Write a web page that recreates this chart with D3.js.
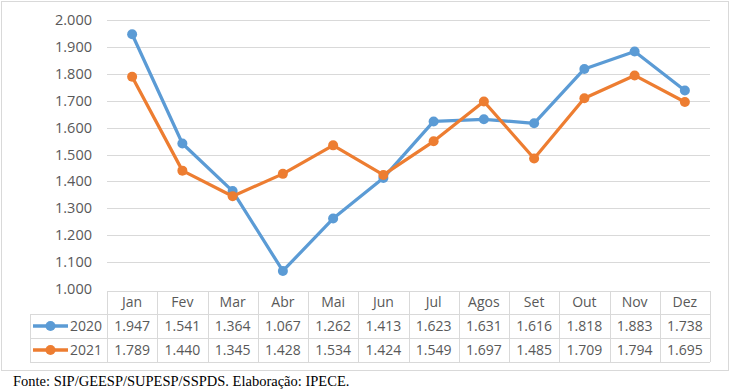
<!DOCTYPE html>
<html lang="pt">
<head>
<meta charset="UTF-8">
<title>Série mensal 2020-2021</title>
<script src="https://d3js.org/d3.v7.min.js"></script>
<style>
  body { margin: 0; background: #fff; }
  svg { display: block; }
  .tick-label, .cell { font-family: "Open Sans", "Liberation Sans", Arial, sans-serif; fill: #595959; }
  .tick-label { font-size: 14.5px; }
  .cell { font-size: 14px; }
  .source { font-family: "Liberation Serif", "Times New Roman", serif; font-size: 14.5px; fill: #000; }
</style>
</head>
<body>
<svg></svg>
<script>
  const months = ["Jan", "Fev", "Mar", "Abr", "Mai", "Jun", "Jul", "Agos", "Set", "Out", "Nov", "Dez"];
  const values2020 = [1947, 1541, 1364, 1067, 1262, 1413, 1623, 1631, 1616, 1818, 1883, 1738];
  const values2021 = [1789, 1440, 1345, 1428, 1534, 1424, 1549, 1697, 1485, 1709, 1794, 1695];
  const yTicks = [1000, 1100, 1200, 1300, 1400, 1500, 1600, 1700, 1800, 1900, 2000];

  const series = [
    { name: "2020", values: values2020, color: "#5B9BD5" },
    { name: "2021", values: values2021, color: "#ED7D31" }
  ];

  const width = 730, height = 390;
  const svg = d3.select("svg").attr("width", width).attr("height", height);

  const fmt = v => d3.format(",")(v).replace(/,/g, ".");
  const fmtTick = v => (v / 1000).toFixed(3);

  const x = d3.scaleBand().domain(months).range([107, 710]);
  const y = d3.scaleLinear().domain([1000, 2000]).range([289, 20]);

  // outer frame
  svg.append("rect")
    .attr("x", 1.5).attr("y", 1.5)
    .attr("width", 727).attr("height", 369)
    .attr("fill", "#fff").attr("stroke", "#d9d9d9");

  // gridlines
  svg.append("g").selectAll("line")
    .data(yTicks.slice(1))
    .join("line")
    .attr("x1", x.range()[0]).attr("x2", x.range()[1])
    .attr("y1", d => Math.round(y(d)) + 0.5).attr("y2", d => Math.round(y(d)) + 0.5)
    .attr("stroke", "#d9d9d9").attr("stroke-width", 1);

  // y labels
  svg.append("g").selectAll("text")
    .data(yTicks)
    .join("text")
    .attr("class", "tick-label")
    .attr("x", 92).attr("y", d => y(d))
    .attr("dy", "0.35em")
    .attr("text-anchor", "end")
    .text(fmtTick);

  // data table
  const rowTop = [291, 314, 338, 362];
  const tableLeft = 30;
  const grid = svg.append("g").attr("stroke", "#d9d9d9").attr("stroke-width", 1).attr("fill", "none");
  grid.append("line").attr("x1", x.range()[0]).attr("x2", x.range()[1]).attr("y1", rowTop[0] + 0.5).attr("y2", rowTop[0] + 0.5);
  rowTop.slice(1).forEach(t => {
    grid.append("line").attr("x1", tableLeft).attr("x2", x.range()[1]).attr("y1", t + 0.5).attr("y2", t + 0.5);
  });
  months.forEach(m => {
    grid.append("line").attr("x1", Math.round(x(m)) + 0.5).attr("x2", Math.round(x(m)) + 0.5)
      .attr("y1", rowTop[0]).attr("y2", rowTop[3]);
  });
  grid.append("line").attr("x1", x.range()[1] + 0.5).attr("x2", x.range()[1] + 0.5).attr("y1", rowTop[0]).attr("y2", rowTop[3]);
  grid.append("line").attr("x1", tableLeft + 0.5).attr("x2", tableLeft + 0.5).attr("y1", rowTop[1]).attr("y2", rowTop[3]);

  // header
  svg.append("g").selectAll("text")
    .data(months)
    .join("text")
    .attr("class", "cell")
    .attr("x", d => x(d) + x.bandwidth() / 2)
    .attr("y", (rowTop[0] + rowTop[1]) / 2)
    .attr("dy", "0.35em")
    .attr("text-anchor", "middle")
    .text(d => d);

  series.forEach((s, i) => {
    const cy = (rowTop[i + 1] + rowTop[i + 2]) / 2;
    const row = svg.append("g");
    row.selectAll("text.cell")
      .data(s.values)
      .join("text")
      .attr("class", "cell")
      .attr("x", (d, j) => x(months[j]) + x.bandwidth() / 2)
      .attr("y", cy)
      .attr("dy", "0.35em")
      .attr("text-anchor", "middle")
      .text(fmt);
    // legend key
    row.append("line")
      .attr("x1", 33).attr("x2", 68).attr("y1", cy).attr("y2", cy)
      .attr("stroke", s.color).attr("stroke-width", 3.5);
    row.append("circle")
      .attr("cx", 50.5).attr("cy", cy).attr("r", 5)
      .attr("fill", s.color);
    row.append("text")
      .attr("class", "cell")
      .attr("x", 70).attr("y", cy)
      .attr("dy", "0.35em")
      .text(s.name);
  });

  // lines + markers
  const line = d3.line()
    .x((d, j) => x(months[j]) + x.bandwidth() / 2)
    .y(d => y(d));

  series.forEach(s => {
    const g = svg.append("g");
    g.append("path")
      .datum(s.values)
      .attr("d", line)
      .attr("fill", "none")
      .attr("stroke", s.color)
      .attr("stroke-width", 3.25)
      .attr("stroke-linejoin", "round");
    g.selectAll("circle")
      .data(s.values)
      .join("circle")
      .attr("cx", (d, j) => x(months[j]) + x.bandwidth() / 2)
      .attr("cy", d => y(d))
      .attr("r", 5)
      .attr("fill", s.color);
  });

  // source
  svg.append("text")
    .attr("class", "source")
    .attr("x", 13).attr("y", 386)
    .text("Fonte: SIP/GEESP/SUPESP/SSPDS. Elaboração: IPECE.");
</script>
</body>
</html>
